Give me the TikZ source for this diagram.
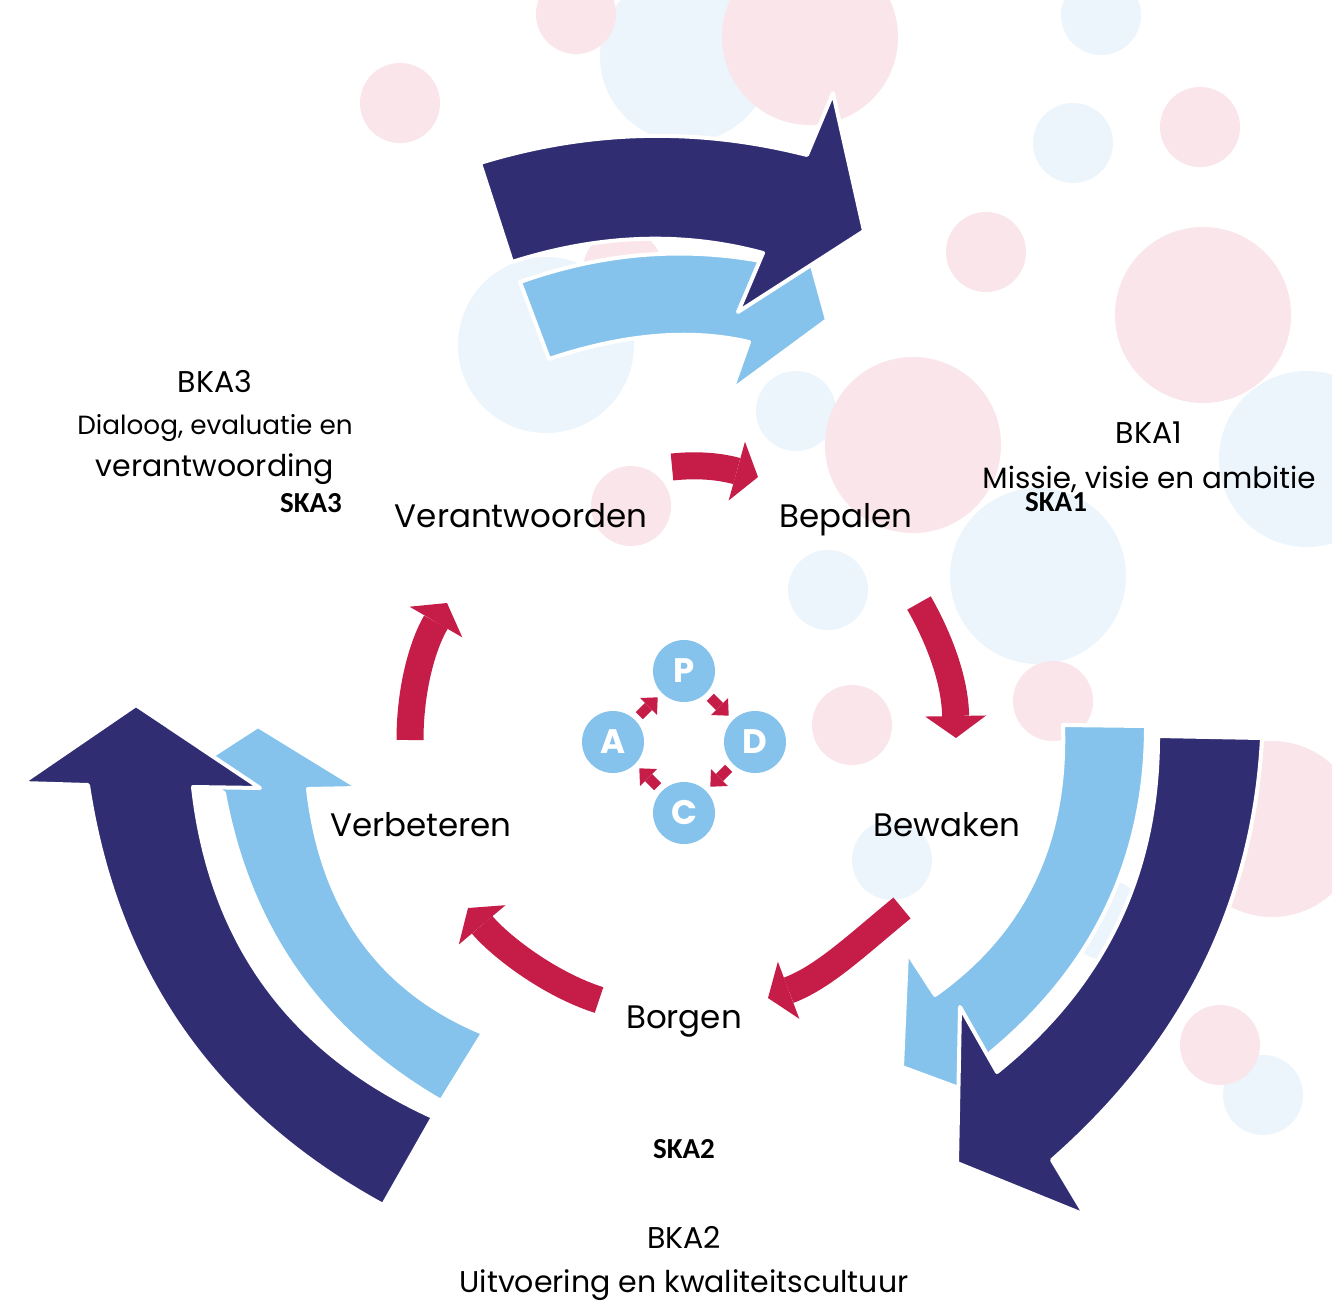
\documentclass[tikz,border=0pt]{standalone}
\usepackage{fontspec}
\setmainfont{Poppins}
\newfontfamily\skafont{Carlito}
\usetikzlibrary{arrows.meta}
\definecolor{navy}{RGB}{49,45,115}
\definecolor{sky}{RGB}{133,195,236}
\definecolor{crim}{RGB}{197,29,72}
\definecolor{pinkbg}{RGB}{250,229,234}
\definecolor{bluebg}{RGB}{236,245,252}
\begin{document}
\begin{tikzpicture}[x=1pt,y=-1pt,
  pinkdot/.style={fill=pinkbg},
  bluedot/.style={fill=bluebg},
  bigdark/.style={fill=navy,draw=white,line width=4pt,line join=round},
  biglight/.style={fill=sky,draw=white,line width=4pt,line join=round},
  redarr/.style={draw=crim,line width=27pt,-{Triangle[width=61pt,length=22pt,line width=0pt]}},
  pdca/.style={circle,fill=sky,minimum size=62pt,inner sep=0pt,text=white,font=\bfseries\fontsize{34}{34}\selectfont},
  pdarr/.style={draw=crim,line width=10pt,shorten <=6pt,shorten >=6pt,-{Triangle[width=24pt,length=13pt,line width=0pt]}},
  lbl/.style={anchor=base,inner sep=0pt,font=\fontsize{32.5}{38}\selectfont},
  txt/.style={anchor=base,inner sep=0pt,font=\fontsize{30}{36}\selectfont},
  bka/.style={anchor=base,inner sep=0pt,font=\fontsize{30}{36}\selectfont},
  ska/.style={anchor=base,inner sep=0pt,font=\skafont\bfseries\fontsize{29}{34}\selectfont}
]
\useasboundingbox[fill=white] (0,0) rectangle (1332,1301);

% background dots (blue below pink)
\foreach \x/\y/\r in {1101/15/40, 686/56/86, 1073/143/40, 546/345/88, 796/411/40,
  1307/459/88, 1038/576/88, 828/590/40, 892/860/40, 1263/1095/40, 1106/920/40}
  \fill[bluedot] (\x,\y) circle[radius=\r];
\foreach \x/\y/\r in {576/14/40, 810/37/88, 400/103/40, 1200/127/40, 986/252/40,
  1203/315/88, 913/445/88, 631/506/40, 852/725/40, 1053/701/40, 1272/829/88,
  1220/1045/40, 623/270/40}
  \fill[pinkdot] (\x,\y) circle[radius=\r];

% top arrows
\path[biglight] (520,282) .. controls (602,252.7) and (684,246) .. (766,262)
  -- (800,222) -- (827,320) -- (732,390) -- (749,342)
  .. controls (690.3,328.3) and (623.7,334) .. (549,359) -- cycle;
\path[bigdark] (480,163) .. controls (588.3,129.7) and (697.3,127) .. (807,155)
  -- (833,93) -- (864,231) -- (738,312) -- (763,253)
  .. controls (682.7,231.3) and (599,234.3) .. (512,262) -- cycle;

% right arrows
\path[biglight] (1063,725) -- (1146,726)
  .. controls (1146,858.3) and (1094,967.3) .. (990,1053)
  -- (1005,1105) -- (902,1067) -- (907,952) -- (935,995)
  .. controls (1024.3,931.7) and (1067,841.7) .. (1063,725) -- cycle;
\path[bigdark] (1158,736) -- (1262,738)
  .. controls (1253.3,904) and (1183.3,1044.7) .. (1052,1160)
  -- (1085,1215) -- (957,1163) -- (960,1007) -- (997,1072)
  .. controls (1104.7,985.3) and (1158.3,873.3) .. (1158,736) -- cycle;

% left arrows
\path[biglight] (258,726) -- (359,788) -- (308,789)
  .. controls (321.7,909) and (380,990.3) .. (483,1033)
  -- (441,1101)
  .. controls (321.3,1031.7) and (249,929) .. (224,793)
  -- (190,770) -- cycle;
\path[bigdark] (136,705) -- (260,788) -- (193,787)
  .. controls (210.3,942.3) and (290.3,1052.3) .. (433,1117)
  -- (383,1205)
  .. controls (214.7,1113) and (116.3,973) .. (88,785)
  -- (22,783) -- cycle;

% labels of the cycle
\node[lbl] (ver) at (521,527) {Verantwoorden};
\node[lbl] (bep) at (846,527) {Bepalen};
\node[lbl] (bew) at (947,836) {Bewaken};
\node[lbl] (vbt) at (421,836) {Verbeteren};
\node[lbl] (bor) at (684,1028) {Borgen};

% red cycle arrows
\coordinate (r1s) at (672,467); \coordinate (r1e) at (758,477);
\coordinate (r2s) at (919,603); \coordinate (r2e) at (956,738);
\coordinate (r3s) at (902,908); \coordinate (r3e) at (768,998);
\coordinate (r4s) at (599,1000); \coordinate (r4e) at (468,908);
\coordinate (r5s) at (410,740); \coordinate (r5e) at (447,603);
\draw[redarr] (r1s) .. controls (700,464) and (722,467) .. (r1e);
\draw[redarr] (r2s) .. controls (939,638) and (955,680) .. (r2e);
\draw[redarr] (r3s) .. controls (858,944) and (824,977) .. (r3e);
\draw[redarr] (r4s) .. controls (549,984) and (500,946) .. (r4e);
\draw[redarr] (r5s) .. controls (410,690) and (422,646) .. (r5e);

% PDCA
\node[pdca] (P) at (684,671) {P};
\node[pdca] (D) at (755,742) {D};
\node[pdca] (C) at (684,813) {C};
\node[pdca] (A) at (613,742) {A};
\draw[pdarr] (A) -- (P);
\draw[pdarr] (P) -- (D);
\draw[pdarr] (D) -- (C);
\draw[pdarr] (C) -- (A);

% BKA texts
\node[bka] (bka3) at (215,392) {BKA3};
\node[anchor=base,inner sep=0pt,font=\fontsize{26.3}{30}\selectfont] (bka3a) at (215,434) {Dialoog, evaluatie en};
\node[anchor=base,inner sep=0pt,font=\fontsize{30}{34}\selectfont] (bka3b) at (215,476) {verantwoording};
\node[ska] (ska3) at (311,512) {SKA3};

\node[bka] (bka1) at (1149,443) {BKA1};
\node[txt,font=\fontsize{29.4}{34}\selectfont] (bka1a) at (1149,488) {Missie, visie en ambitie};
\node[ska] (ska1) at (1056,511) {SKA1};

\node[ska] (ska2) at (684,1158) {SKA2};
\node[bka] (bka2) at (684,1248) {BKA2};
\node[txt] (bka2a) at (684,1292) {Uitvoering en kwaliteitscultuur};
\end{tikzpicture}
\end{document}
